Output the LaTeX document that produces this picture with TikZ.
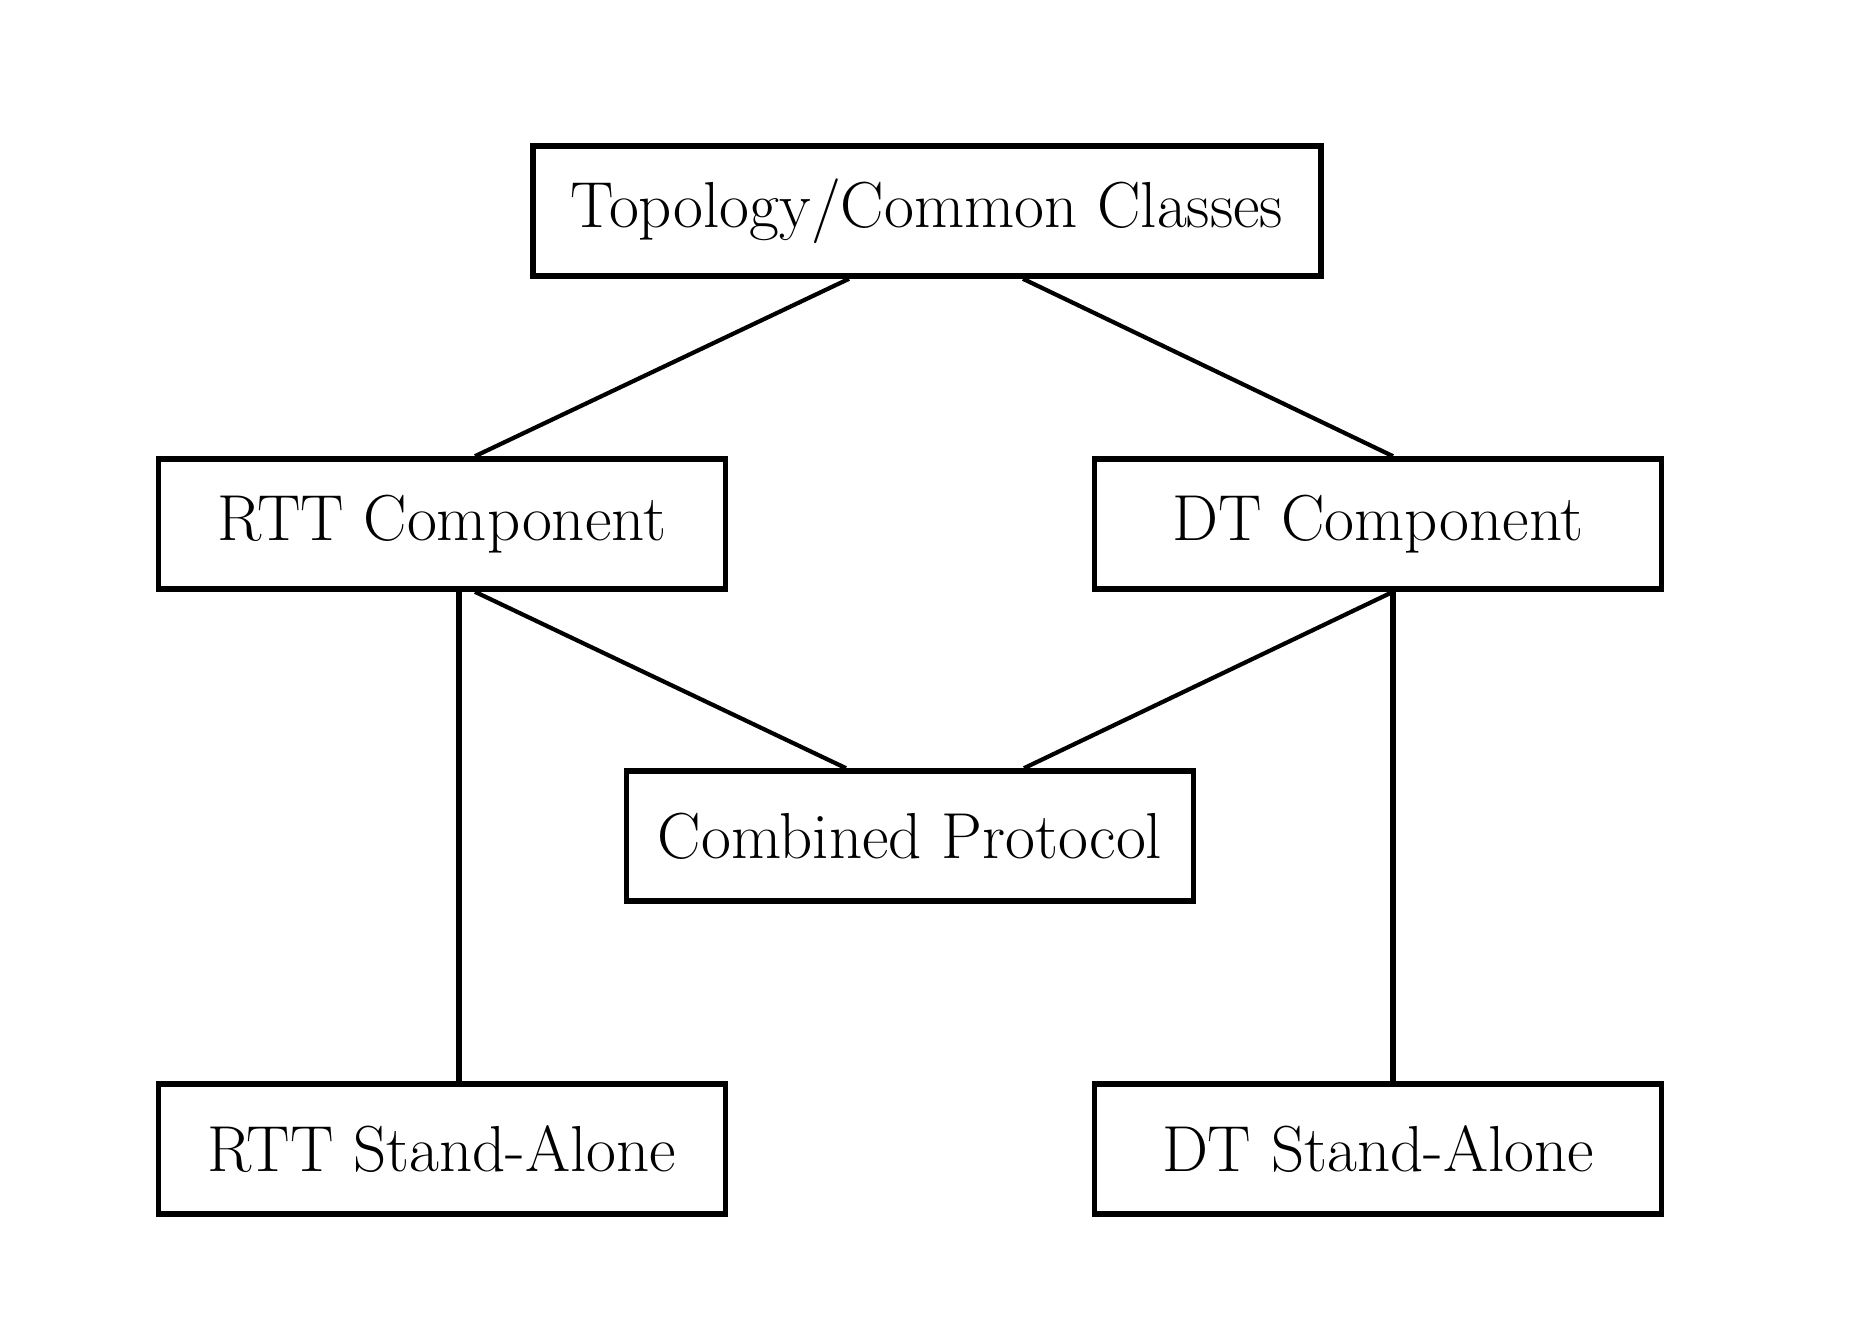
\documentclass[tikz,border=0pt]{standalone}
\usepackage{amsmath,amssymb}
\begin{document}
\begin{tikzpicture}[x=1cm,y=-1cm,
  box/.style={draw, line width=1.6pt, minimum width=5.67cm, minimum height=1.3cm,
    inner sep=0pt, font=\fontsize{18.5}{22}\selectfont},
  link/.style={line width=1.2pt},
  stem/.style={line width=1.6pt}]
\useasboundingbox (0,0) rectangle (18.72,13.30);
\node[box, minimum width=7.88cm] (top) at (9.27,2.11) {Topology/Common Classes};
\node[box] (rtt) at (4.42,5.24) {RTT Component};
\node[box] (dt) at (13.78,5.24) {DT Component};
\node[box] (comb) at (9.10,8.36) {Combined Protocol};
\node[box] (rttsa) at (4.42,11.49) {RTT Stand-Alone};
\node[box] (dtsa) at (13.78,11.49) {DT Stand-Alone};
\draw[link] ([xshift=-0.78cm]top.south) -- ([xshift=0.33cm]rtt.north);
\draw[link] ([xshift=0.96cm]top.south) -- ([xshift=0.15cm]dt.north);
\draw[link] ([xshift=0.33cm]rtt.south) -- ([xshift=-0.64cm]comb.north);
\draw[link] ([xshift=0.15cm]dt.south) -- ([xshift=1.14cm]comb.north);
\draw[stem] ([xshift=0.17cm]rtt.south) -- ([xshift=0.17cm]rttsa.north);
\draw[stem] ([xshift=0.15cm]dt.south) -- ([xshift=0.15cm]dtsa.north);
\end{tikzpicture}
\end{document}
